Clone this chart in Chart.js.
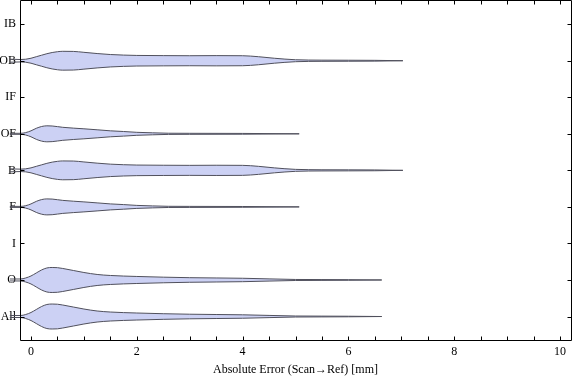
<!DOCTYPE html>
<html><head><meta charset="utf-8">
<script src="https://cdn.jsdelivr.net/npm/chart.js@4"></script>
<style>html,body{margin:0;padding:0;background:#fff}#wrap{width:576px;height:381px;position:relative}</style>
</head><body><div id="wrap"><canvas id="c"></canvas></div>
<script>
// ---- data ----
const categories = ['All','O','I','F','B','OF','IF','OB','IB'];
const xTickValues = [0,2,4,6,8,10];
const xMinorStep = 0.5;
const xAxisTitle = 'Absolute Error (Scan\u2192Ref) [mm]';

// violin profiles: error values (mm) and half-widths (in category units)
const xAll = [-0.6,-0.4,-0.2,-0.1,0,0.1,0.2,0.3,0.4,0.5,0.6,0.8,1.0,1.25,1.5,2.0,2.5,3.0,3.5,4.0,4.5,5.0,5.5,6.0,6.63];
const wAll = [0.027,0.027,0.027,0.055,0.11,0.192,0.274,0.329,0.342,0.337,0.315,0.26,0.205,0.151,0.123,0.096,0.077,0.063,0.055,0.047,0.03,0.014,0.011,0.008,0];
const xO = [-0.6,-0.4,-0.2,-0.1,0,0.1,0.2,0.3,0.4,0.5,0.6,0.8,1.0,1.25,1.5,2.0,2.5,3.0,3.5,4.0,4.5,5.0,5.5,6.0,6.63];
const wO = [0.027,0.027,0.027,0.055,0.11,0.192,0.274,0.329,0.342,0.337,0.315,0.26,0.205,0.151,0.123,0.096,0.077,0.063,0.055,0.047,0.03,0.014,0.011,0.008,0];
const xF = [-0.6,-0.4,-0.2,-0.1,0,0.1,0.2,0.3,0.4,0.5,0.6,0.8,1.0,1.25,1.5,1.75,2.0,2.3,2.6,3.0,4.0,5.07];
const wF = [0.014,0.014,0.014,0.033,0.082,0.151,0.2,0.219,0.214,0.197,0.178,0.156,0.137,0.11,0.082,0.063,0.041,0.027,0.016,0.014,0.011,0];
const xB = [-0.6,-0.4,-0.2,-0.1,0,0.1,0.2,0.3,0.4,0.5,0.6,0.8,1.0,1.25,1.5,2.0,2.5,3.0,3.5,4.0,4.3,4.6,5.0,5.5,6.0,6.5,7.03];
const wB = [0.041,0.041,0.033,0.041,0.068,0.11,0.151,0.192,0.225,0.247,0.258,0.255,0.23,0.197,0.17,0.145,0.14,0.137,0.14,0.137,0.11,0.068,0.027,0.016,0.014,0.011,0];
const xOF = [-0.6,-0.4,-0.2,-0.1,0,0.1,0.2,0.3,0.4,0.5,0.6,0.8,1.0,1.25,1.5,1.75,2.0,2.3,2.6,3.0,4.0,5.07];
const wOF = [0.014,0.014,0.014,0.033,0.082,0.151,0.2,0.219,0.214,0.197,0.178,0.156,0.137,0.11,0.082,0.063,0.041,0.027,0.016,0.014,0.011,0];
const xOB = [-0.6,-0.4,-0.2,-0.1,0,0.1,0.2,0.3,0.4,0.5,0.6,0.8,1.0,1.25,1.5,2.0,2.5,3.0,3.5,4.0,4.3,4.6,5.0,5.5,6.0,6.5,7.03];
const wOB = [0.041,0.041,0.033,0.041,0.068,0.11,0.151,0.192,0.225,0.247,0.258,0.255,0.23,0.197,0.17,0.145,0.14,0.137,0.14,0.137,0.11,0.068,0.027,0.016,0.014,0.011,0];

const violins = {All:[xAll,wAll], O:[xO,wO], F:[xF,wF], B:[xB,wB], OF:[xOF,wOF], OB:[xOB,wOB]};

const fillColor = 'rgb(204,209,244)';
const lineColor = 'rgb(80,80,92)';
const serif = "'Liberation Serif','Times New Roman',serif";

const datasets = [];
categories.forEach((cat, ci) => {
  const v = violins[cat];
  if (!v) return;
  const [xs, ws] = v;
  const base = {showLine:true, pointRadius:0, borderColor:lineColor, borderWidth:1,
    cubicInterpolationMode:'monotone', clip:false};
  datasets.push(Object.assign({}, base, {label:cat+' upper', data: xs.map((x,i)=>({x, y: ci + ws[i]})), fill:false}));
  datasets.push(Object.assign({}, base, {label:cat+' lower', data: xs.map((x,i)=>({x, y: ci - ws[i]})), fill:'-1', backgroundColor:fillColor}));
});

const frameTicks = {
  id:'frameTicks',
  afterDraw(chart){
    const {ctx, chartArea:a, scales:{x,y}} = chart;
    ctx.save();
    ctx.strokeStyle = '#000';
    ctx.lineWidth = 1;
    const L = Math.round(a.left)+0.5, R = Math.round(a.right)+0.5, T = Math.round(a.top)+0.5, B = Math.round(a.bottom)-0.5;
    ctx.beginPath();
    ctx.rect(L, T, R-L, B-T);
    ctx.stroke();
    ctx.beginPath();
    for (let v = 0; v <= 10.0001; v += xMinorStep) {
      const px = Math.round(x.getPixelForValue(v)) + 0.5;
      ctx.moveTo(px, B); ctx.lineTo(px, B-4);
      ctx.moveTo(px, T); ctx.lineTo(px, T+4);
    }
    categories.forEach((c, i) => {
      const py = Math.round(y.getPixelForValue(i)) + 0.5;
      ctx.moveTo(L, py); ctx.lineTo(L+4, py);
      ctx.moveTo(R, py); ctx.lineTo(R-4, py);
    });
    ctx.stroke();
    ctx.restore();
  }
};

new Chart(document.getElementById('c'), {
  type:'scatter',
  data:{datasets},
  options:{
    responsive:true, maintainAspectRatio:false, animation:false,
    layout:{padding:{top:0,right:5,left:0,bottom:0}},
    plugins:{legend:{display:false}, tooltip:{enabled:false}},
    scales:{
      x:{type:'linear', min:-0.208, max:10.208,
        afterBuildTicks:s=>{s.ticks = xTickValues.map(v=>({value:v}));},
        afterFit:s=>{s.height = 40; s.paddingLeft = 0; s.paddingRight = 0;},
        grid:{display:false, drawTicks:false}, border:{display:false},
        ticks:{color:'#000', font:{family:serif, size:12}, padding:4, maxRotation:0, autoSkip:false},
        title:{display:true, text:xAxisTitle, color:'#000', font:{family:serif, size:12}, padding:{top:0,bottom:4}}
      },
      y:{type:'linear', min:-0.670, max:8.662,
        afterBuildTicks:s=>{s.ticks = categories.map((c,i)=>({value:i}));},
        afterFit:s=>{s.width = 20; s.paddingTop = 0; s.paddingBottom = 0;},
        grid:{display:false, drawTicks:false}, border:{display:false},
        ticks:{color:'#000', font:{family:serif, size:12}, padding:4, autoSkip:false,
          callback:v=>categories[v]}
      }
    }
  },
  plugins:[frameTicks]
});
</script>
</body></html>
